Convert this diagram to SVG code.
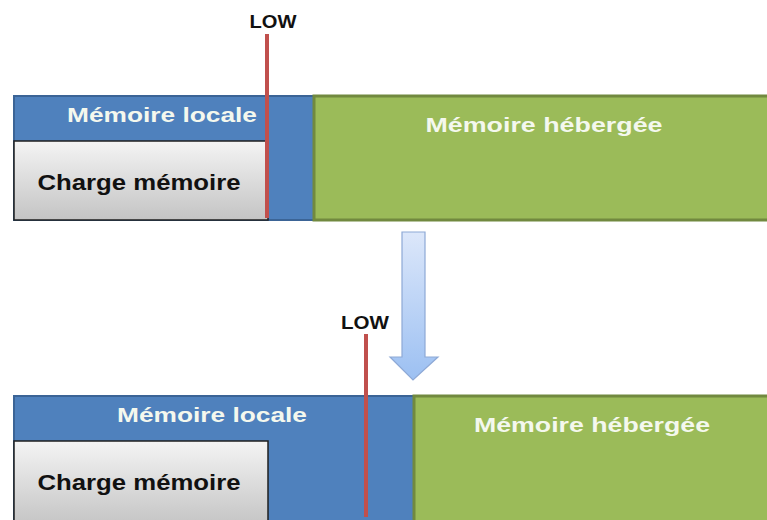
<svg xmlns="http://www.w3.org/2000/svg" width="767" height="520" viewBox="0 0 767 520">
<style>
.lbl{font-family:"Liberation Sans",Arial,sans-serif;font-weight:bold}
.w{fill:#F4F8EE}
.blue{fill:#4F81BD;stroke:#3B6496;stroke-width:2}
.green{fill:#9BBB59;stroke:#71893F;stroke-width:3}
.gray{fill:url(#gg);stroke:#1F1F1F;stroke-width:1.5}
.red{stroke:#C0504D;stroke-width:4}
</style>
<defs>
<linearGradient id="gg" x1="0" y1="0" x2="0" y2="1">
<stop offset="0" stop-color="#F4F4F4"/>
<stop offset="1" stop-color="#C4C4C4"/>
</linearGradient>
<linearGradient id="ag" x1="0" y1="0" x2="0" y2="1">
<stop offset="0" stop-color="#DCE7FA"/>
<stop offset="1" stop-color="#9CC0F2"/>
</linearGradient>
</defs>
<rect width="767" height="520" fill="#FFFFFF"/>
<g id="top">
<g id="top-local">
<rect class="blue" x="14" y="96" width="300" height="124"/>
<text class="lbl w" x="162" y="122" font-size="20" text-anchor="middle" textLength="190" lengthAdjust="spacingAndGlyphs">Mémoire locale</text>
</g>
<g id="top-hosted">
<rect class="green" x="314" y="96" width="460" height="124"/>
<text class="lbl w" x="544" y="132" font-size="21" text-anchor="middle" textLength="237" lengthAdjust="spacingAndGlyphs">Mémoire hébergée</text>
</g>
<g id="top-charge">
<rect class="gray" x="14" y="141" width="254" height="79"/>
<text class="lbl" x="139" y="190" font-size="22" fill="#111" text-anchor="middle" textLength="203" lengthAdjust="spacingAndGlyphs">Charge mémoire</text>
</g>
<g id="top-low">
<line class="red" x1="267" y1="34" x2="267" y2="218"/>
<text class="lbl" x="273" y="28" font-size="18" fill="#111" text-anchor="middle" textLength="47" lengthAdjust="spacingAndGlyphs">LOW</text>
</g>
</g>
<g id="connectors">
<path d="M402,232 L425,232 L425,357 L438,357 L413,380 L390,357 L402,357 Z" fill="url(#ag)" stroke="#8EA9D6" stroke-width="1.2"/>
</g>
<g id="bottom">
<g id="bot-local">
<rect class="blue" x="14" y="396" width="400" height="130"/>
<text class="lbl w" x="212" y="422" font-size="20" text-anchor="middle" textLength="190" lengthAdjust="spacingAndGlyphs">Mémoire locale</text>
</g>
<g id="bot-hosted">
<rect class="green" x="414" y="396" width="360" height="130"/>
<text class="lbl w" x="592" y="432" font-size="21" text-anchor="middle" textLength="236" lengthAdjust="spacingAndGlyphs">Mémoire hébergée</text>
</g>
<g id="bot-charge">
<rect class="gray" x="14" y="441" width="254" height="85"/>
<text class="lbl" x="139" y="490" font-size="22" fill="#111" text-anchor="middle" textLength="203" lengthAdjust="spacingAndGlyphs">Charge mémoire</text>
</g>
<g id="bot-low">
<line class="red" x1="366" y1="334" x2="366" y2="517"/>
<text class="lbl" x="365" y="329" font-size="18" fill="#111" text-anchor="middle" textLength="48" lengthAdjust="spacingAndGlyphs">LOW</text>
</g>
</g>
</svg>
